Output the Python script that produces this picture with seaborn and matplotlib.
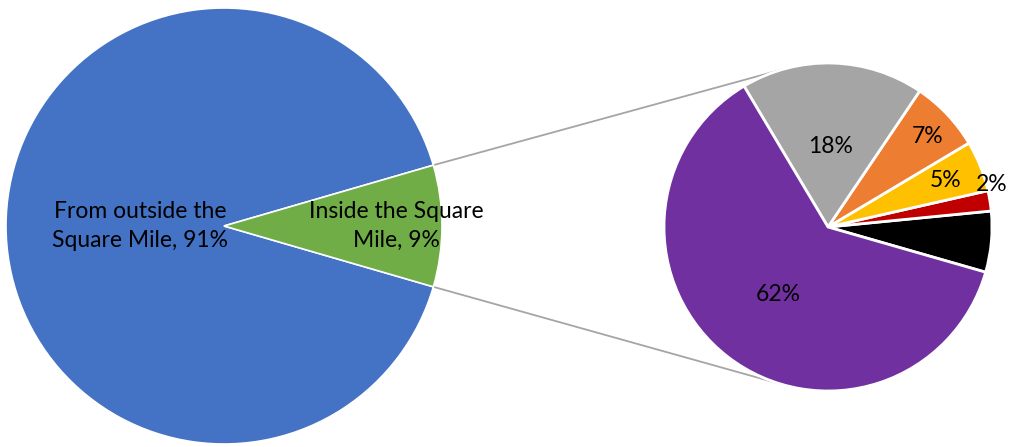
import numpy as np
import matplotlib
matplotlib.use("Agg")
import matplotlib.pyplot as plt
import seaborn as sns

# main pie
main_labels = ["From outside the\nSquare Mile", "Inside the Square\nMile"]
main_values = [91, 9]
main_colors = ["#4472C4", "#70AD47"]

# breakdown of the "inside" slice (drawn counter-clockwise from the right)
sub_values = [6, 2, 5, 7, 18, 62]
sub_labels = ["", "2%", "5%", "7%", "18%", "62%"]
sub_colors = ["#000000", "#C00000", "#FFC000", "#ED7D31", "#A5A5A5", "#7030A0"]

sns.set_theme(style="white")
plt.rcParams["font.family"] = ["Lato", "DejaVu Sans"]

W, H = 1011, 447
fig = plt.figure(figsize=(W / 100, H / 100), dpi=100)
ax = fig.add_axes([0, 0, 1, 1])

c1, r1 = np.array([224.0, 221.0]), 218.0
c2, r2 = np.array([828.0, 220.0]), 164.0

half = main_values[1] / sum(main_values) * 180
w1, _ = ax.pie(main_values, colors=main_colors, startangle=half, center=c1, radius=r1,
               wedgeprops=dict(edgecolor="white", linewidth=1.2), normalize=True)
w2, _ = ax.pie(sub_values, colors=sub_colors, startangle=-16, center=c2, radius=r2,
               wedgeprops=dict(edgecolor="white", linewidth=2), normalize=True)

def mid_point(w, c, r, frac, nudge=0.0):
    a = np.deg2rad((w.theta1 + w.theta2) / 2 + nudge)
    return c[0] + frac * r * np.cos(a), c[1] + frac * r * np.sin(a)

fs = 16.5
for w, lab, v, frac in zip(w1, main_labels, main_values, [0.385, 0.79]):
    x, y = mid_point(w, c1, r1, frac)
    ax.text(x, y, f"{lab}, {v}%", ha="center", va="center", fontsize=fs,
            color="black", linespacing=1.45)

# (distance as fraction of radius, angular nudge in degrees)
sub_pos = [(0, 0), (1.03, 5.2), (0.77, 0), (0.82, -1.3), (0.49, 0), (0.51, 1)]
for w, lab, (frac, nudge) in zip(w2, sub_labels, sub_pos):
    if not lab:
        continue
    x, y = mid_point(w, c2, r2, frac, nudge)
    ax.text(x, y, lab, ha="center", va="center", fontsize=fs, color="black")

# connector lines: from the green slice corners, tangent to the second pie
for sgn in (1, -1):
    a = np.deg2rad(sgn * half)
    p = c1 + r1 * np.array([np.cos(a), np.sin(a)])
    d = c2 - p
    dist = np.hypot(*d)
    base = np.arctan2(d[1], d[0])
    off = np.arcsin(r2 / dist)
    ang = base + sgn * off
    L = np.sqrt(dist ** 2 - r2 ** 2)
    q = p + L * np.array([np.cos(ang), np.sin(ang)])
    ax.plot([p[0], q[0]], [p[1], q[1]], color="#A5A5A5", linewidth=1.3, zorder=0)

ax.set_xlim(0, W)
ax.set_ylim(0, H)
ax.set_aspect("equal")
ax.axis("off")

fig.savefig("out.png", dpi=100, facecolor="white")
